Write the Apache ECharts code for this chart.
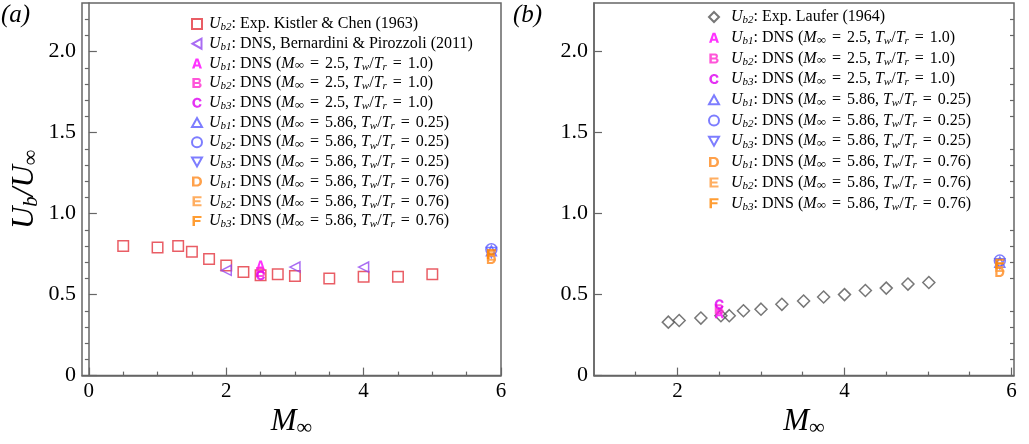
<!DOCTYPE html>
<html><head><meta charset="utf-8">
<script src="https://cdn.jsdelivr.net/npm/echarts@6/dist/echarts.min.js"></script>
<style>html,body{margin:0;padding:0;background:#fff;}#c{width:1029px;height:444px;}</style>
</head><body><div id="c"></div>
<script>
// ---- data ----
const kistlerM = [0.5, 1.0, 1.3, 1.5, 1.75, 2.0, 2.25, 2.5, 2.75, 3.0, 3.5, 4.0, 4.5, 5.0];
const kistlerU = [0.80, 0.79, 0.80, 0.765, 0.72, 0.68, 0.64, 0.62, 0.625, 0.615, 0.60, 0.61, 0.61, 0.625];
const bernM = [2.0, 3.0, 4.0];
const bernU = [0.65, 0.67, 0.67];
const lauferM = [1.89, 2.02, 2.28, 2.52, 2.62, 2.79, 3.0, 3.25, 3.51, 3.75, 4.0, 4.25, 4.5, 4.76, 5.01];
const lauferU = [0.33, 0.34, 0.355, 0.37, 0.37, 0.40, 0.41, 0.44, 0.46, 0.485, 0.50, 0.525, 0.54, 0.565, 0.575];
const dnsMach = [2.5, 5.86];
// values ordered Ub1, Ub2, Ub3
const aM25 = [0.68, 0.64, 0.62];
const aM586cold = [0.77, 0.78, 0.76];
const aM586warm = [0.72, 0.74, 0.75];
const bM25 = [0.385, 0.41, 0.44];
const bM586cold = [0.70, 0.71, 0.69];
const bM586warm = [0.64, 0.67, 0.69];
const yTicks = [0, 0.5, 1.0, 1.5, 2.0];
const yMinor = [0.1,0.2,0.3,0.4,0.6,0.7,0.8,0.9,1.1,1.2,1.3,1.4,1.6,1.7,1.8,1.9,2.1,2.2];
const xTicksA = [0, 2, 4, 6];
const xMinorA = [0.5,1,1.5,2.5,3,3.5,4.5,5,5.5];
const xTicksB = [2, 4, 6];
const xMinorB = [1.5,2.5,3,3.5,4.5,5,5.5];

const FONT = 'Liberation Serif';
const P = {
  A: 'path://M0,10 L3.6,0 L6.4,0 L10,10 L7.4,10 L6.8,8.1 L3.2,8.1 L2.6,10 Z M3.8,6.1 L6.2,6.1 L5,2.4 Z',
  B: 'path://M0,0 L6,0 C9.3,0 9.3,4.8 7,4.9 C10.2,5 10.2,10 6,10 L0,10 Z M2.5,2 L2.5,4 L5.6,4 C6.8,4 6.8,2 5.6,2 Z M2.5,6 L2.5,8 L6,8 C7.3,8 7.3,6 6,6 Z',
  C: 'path://M9.3,3.2 C8.6,1 7,0 5,0 C2,0 0,2.2 0,5 C0,7.8 2,10 5,10 C7,10 8.6,9 9.3,6.8 L7.1,6.1 C6.7,7.3 6,8 5,8 C3.4,8 2.5,6.7 2.5,5 C2.5,3.3 3.4,2 5,2 C6,2 6.7,2.7 7.1,3.9 Z',
  D: 'path://M0,0 L5,0 C8.5,0 10,2.5 10,5 C10,7.5 8.5,10 5,10 L0,10 Z M2.5,2 L2.5,8 L4.8,8 C6.8,8 7.5,6.5 7.5,5 C7.5,3.5 6.8,2 4.8,2 Z',
  E: 'path://M0,0 L9,0 L9,2 L2.5,2 L2.5,4 L8,4 L8,6 L2.5,6 L2.5,8 L9,8 L9,10 L0,10 Z',
  F: 'path://M0,0 L9,0 L9,2 L2.5,2 L2.5,4 L8,4 L8,6 L2.5,6 L2.5,10 L0,10 Z',
  TL: 'path://M0,5 L9,0 L9,10 Z',
  TU: 'path://M5,0 L10,9 L0,9 Z',
  TD: 'path://M0,0 L10,0 L5,9 Z'
};
const RED = '#e4343f', PURPLE = '#9447f0', MAG1 = '#ff00ff', MAG2 = '#ff2bd0', MAG3 = '#dd00f0',
      BLUE = '#5c5cff', OR1 = '#ff8a1e', OR2 = '#ff9a3a', OR3 = '#ff8400', GRAY = '#555555';

const N = {
  kis: 'kistler', ber: 'bern', lau: 'laufer',
  a1: 'a1', a2: 'a2', a3: 'a3', c1: 'c1', c2: 'c2', c3: 'c3', w1: 'w1', w2: 'w2', w3: 'w3'
};
const legendText = {
  kistler: '{i|U}{s|b2}{n|: Exp. Kistler & Chen (1963)}',
  bern: '{i|U}{s|b1}{n|: DNS, Bernardini & Pirozzoli (2011)}',
  laufer: '{i|U}{s|b2}{n|: Exp. Laufer (1964)}'
};
function dnsTxt(k, m, t) {
  return '{i|U}{s|b' + k + '}{n|: DNS (}{i|M}{inf|∞}{eq|=}{n|' + m + ', }{i|T}{s|w}{n|/}{i|T}{s|r}{eq|=}{n|' + t + ')}';
}
['1','2','3'].forEach(k => {
  legendText['a' + k] = dnsTxt(k, '2.5', '1.0');
  legendText['c' + k] = dnsTxt(k, '5.86', '0.25');
  legendText['w' + k] = dnsTxt(k, '5.86', '0.76');
});

function hollow(c) { return { color: 'rgba(255,255,255,0)', borderColor: c, borderWidth: 1.5 }; }
function pts(xs, ys) { return xs.map((x, i) => [x, ys[i]]); }

function panelSeries(ax, m25, cold, warm) {
  const s = [];
  const specs25 = [[N.a1, P.A, MAG1], [N.a2, P.B, MAG2], [N.a3, P.C, MAG3]];
  specs25.forEach((sp, i) => s.push({
    name: sp[0], type: 'scatter', xAxisIndex: ax, yAxisIndex: ax,
    symbol: sp[1], symbolSize: [9, 10], itemStyle: { color: sp[2] },
    data: [[dnsMach[0], m25[i]]], z: 5
  }));
  const specsC = [[N.c1, P.TU, 10], [N.c2, 'circle', 11], [N.c3, P.TD, 10]];
  specsC.forEach((sp, i) => s.push({
    name: sp[0], type: 'scatter', xAxisIndex: ax, yAxisIndex: ax,
    symbol: sp[1], symbolSize: sp[2], itemStyle: hollow(BLUE),
    data: [[dnsMach[1], cold[i]]], z: 4
  }));
  const specsW = [[N.w1, P.D, OR1], [N.w2, P.E, OR2], [N.w3, P.F, OR3]];
  specsW.forEach((sp, i) => s.push({
    name: sp[0], type: 'scatter', xAxisIndex: ax, yAxisIndex: ax,
    symbol: sp[1], symbolSize: [9, 10], itemStyle: { color: sp[2] },
    data: [[dnsMach[1], warm[i]]], z: 5
  }));
  return s;
}

const series = [
  { name: N.kis, type: 'scatter', xAxisIndex: 0, yAxisIndex: 0, symbol: 'rect', symbolSize: 10.5,
    itemStyle: hollow(RED), data: pts(kistlerM, kistlerU) },
  { name: N.ber, type: 'scatter', xAxisIndex: 0, yAxisIndex: 0, symbol: P.TL, symbolSize: 10,
    itemStyle: hollow(PURPLE), data: pts(bernM, bernU) },
  ...panelSeries(0, aM25, aM586cold, aM586warm),
  { name: N.lau, type: 'scatter', xAxisIndex: 2, yAxisIndex: 2, symbol: 'diamond', symbolSize: 12,
    itemStyle: hollow(GRAY), data: pts(lauferM, lauferU) },
  ...panelSeries(2, bM25, bM586cold, bM586warm)
];

const AX = '#666';
function legendRich(gapW) {
  return {
    g: { width: gapW, fontSize: 16, lineHeight: 18 },
    n: { fontFamily: FONT, fontSize: 16, color: '#000', lineHeight: 18 },
    eq: { fontFamily: FONT, fontSize: 16, color: '#000', lineHeight: 18, padding: [0, 6, 0, 6] },
    i: { fontFamily: FONT, fontSize: 16, fontStyle: 'italic', color: '#000', lineHeight: 18 },
    s: { fontFamily: FONT, fontSize: 11, fontStyle: 'italic', color: '#000', lineHeight: 11, verticalAlign: 'bottom' },
    inf: { fontFamily: FONT, fontSize: 13, color: '#000', lineHeight: 12, verticalAlign: 'bottom' }
  };
}
const nameRich = {
  i: { fontFamily: FONT, fontSize: 31, fontStyle: 'italic', color: '#000', lineHeight: 34 },
  s: { fontFamily: FONT, fontSize: 22, color: '#000', lineHeight: 21, verticalAlign: 'bottom' },
  si: { fontFamily: FONT, fontSize: 21, fontStyle: 'italic', color: '#000', lineHeight: 20, verticalAlign: 'bottom' }
};

function xMain(grid, min, max, ticks, withName) {
  return {
    type: 'value', gridIndex: grid, min: min, max: max, position: 'bottom',
    axisLine: { show: true, lineStyle: { color: AX, width: 1.5 } },
    axisTick: { show: true, inside: true, length: 8, customValues: ticks, lineStyle: { color: AX, width: 1.2 } },
    axisLabel: { customValues: ticks, fontFamily: FONT, fontSize: 21, color: '#000', margin: 5,
      formatter: v => String(Math.round(v)) },
    splitLine: { show: false },
    name: withName ? '{i|M}{s|∞}' : '', nameLocation: 'middle', nameGap: 29,
    nameTextStyle: { rich: nameRich }
  };
}
function xMinor(grid, min, max, ticks) {
  return {
    type: 'value', gridIndex: grid, min: min, max: max, position: 'bottom',
    axisLine: { show: false },
    axisTick: { show: true, inside: true, length: 4, customValues: ticks, lineStyle: { color: AX, width: 1.2 } },
    axisLabel: { show: false }, splitLine: { show: false }
  };
}
function yMain(grid, withName) {
  return {
    type: 'value', gridIndex: grid, min: 0, max: 2.3,
    axisLine: { show: true, lineStyle: { color: AX, width: 1.5 } },
    axisTick: { show: true, inside: true, length: 8, customValues: yTicks, lineStyle: { color: AX, width: 1.2 } },
    axisLabel: { customValues: yTicks, fontFamily: FONT, fontSize: 22, color: '#000', margin: 6,
      formatter: v => (v === 0 ? '0' : v.toFixed(1)) },
    splitLine: { show: false },
    name: withName ? '{i|U}{si|b}{i|/U}{s|∞}' : '', nameLocation: 'middle', nameGap: 40,
    nameTextStyle: { rich: nameRich }
  };
}
function yMinorAx(grid) {
  return {
    type: 'value', gridIndex: grid, min: 0, max: 2.3,
    axisLine: { show: false },
    axisTick: { show: true, inside: true, length: 4, customValues: yMinor, lineStyle: { color: AX, width: 1.2 } },
    axisLabel: { show: false }, splitLine: { show: false }
  };
}

function legendCfg(left, top, names, gap, gapW) {
  return {
    orient: 'vertical', left: left, top: top, padding: 0, itemGap: gap,
    itemWidth: 10, itemHeight: 10, data: names, selectedMode: false,
    formatter: name => '{g|}' + legendText[name],
    textStyle: { rich: legendRich(gapW) }
  };
}

const titleStyle = { fontFamily: FONT, fontSize: 25, fontStyle: 'italic', fontWeight: 'normal', color: '#000' };
const option = {
  animation: false,
  backgroundColor: '#fff',
  title: [
    { text: '(a)', left: 1, top: 3, padding: 0, textStyle: titleStyle },
    { text: '(b)', left: 513, top: 3, padding: 0, textStyle: titleStyle }
  ],
  grid: [
    { left: 82, top: 3, width: 419, height: 377, show: true, borderColor: AX, borderWidth: 1.5, backgroundColor: 'transparent' },
    { left: 594, top: 3, width: 420, height: 377, show: true, borderColor: AX, borderWidth: 1.5, backgroundColor: 'transparent' }
  ],
  xAxis: [
    xMain(0, -0.1, 6.0, xTicksA, true),
    xMinor(0, -0.1, 6.0, xMinorA),
    xMain(1, 1.0, 6.03, xTicksB, true),
    xMinor(1, 1.0, 6.03, xMinorB)
  ],
  yAxis: [yMain(0, true), yMinorAx(0), yMain(1, false), yMinorAx(1)],
  legend: [
    legendCfg(191, 16, [N.kis, N.ber, N.a1, N.a2, N.a3, N.c1, N.c2, N.c3, N.w1, N.w2, N.w3], 2.7, 2),
    legendCfg(708, 9, [N.lau, N.a1, N.a2, N.a3, N.c1, N.c2, N.c3, N.w1, N.w2, N.w3], 3.7, 7)
  ],
  series: series
};
const chart = echarts.init(document.getElementById('c'), null, { renderer: 'canvas' });
chart.setOption(option);
</script></body></html>
